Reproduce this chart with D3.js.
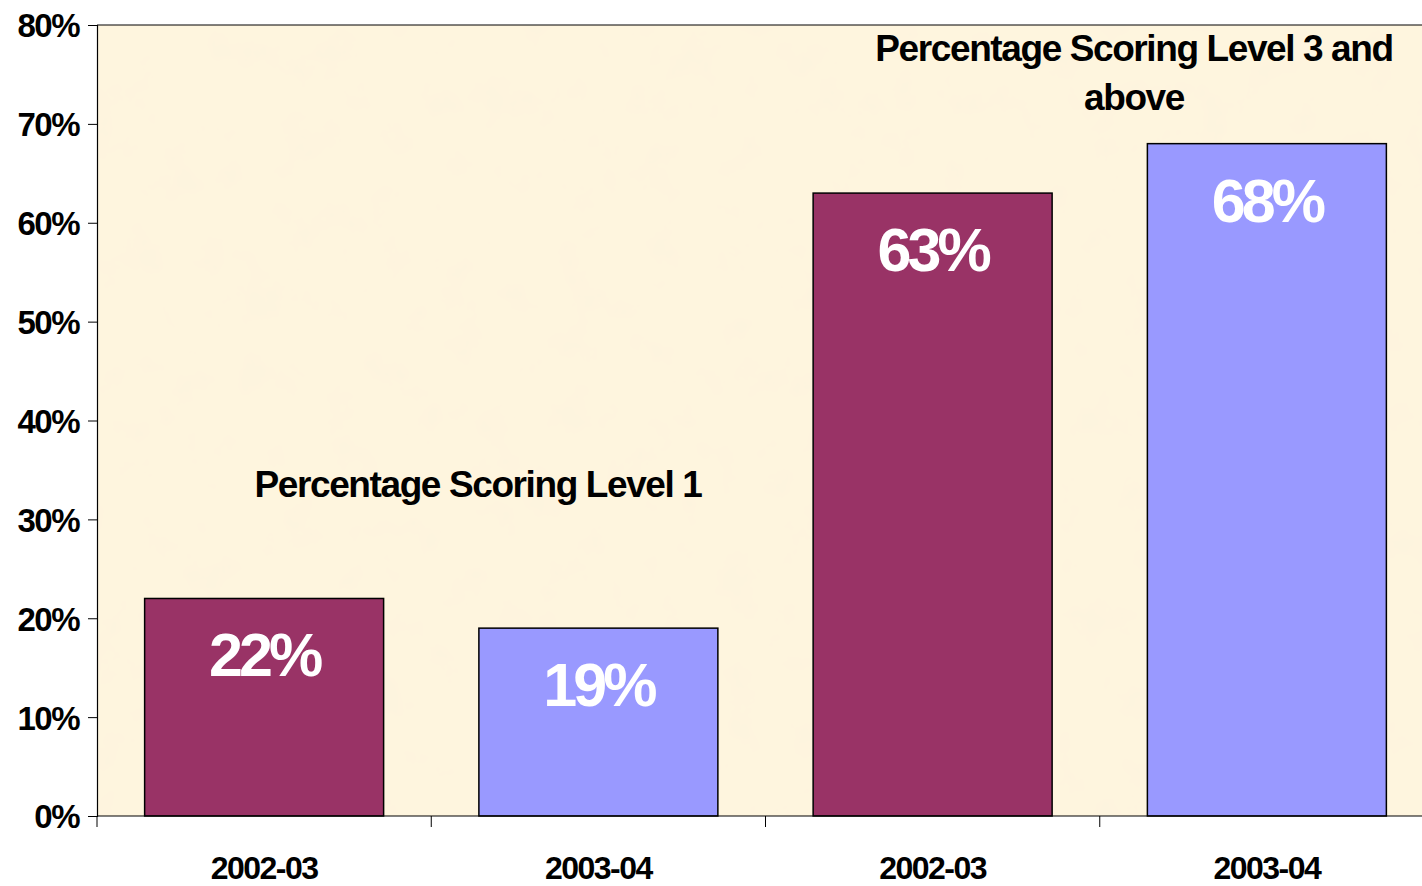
<!DOCTYPE html>
<html>
<head>
<meta charset="utf-8">
<script src="https://cdn.jsdelivr.net/npm/d3@7.9.0/dist/d3.min.js"></script>
<style>
  html, body { margin: 0; padding: 0; background: #ffffff; overflow: hidden; }
  text { font-family: "Liberation Sans", Arial, sans-serif; font-weight: bold; }
</style>
</head>
<body>
<script>
// Chart data
const years = ["2002-03", "2003-04", "2002-03", "2003-04"];
const values = [22, 19, 63, 68];
const yearColors = { "2002-03": "#993366", "2003-04": "#9999FF" };
const yTicks = [0, 10, 20, 30, 40, 50, 60, 70, 80];
const level1Label = ["Percentage Scoring Level 1"];
const level3Label = ["Percentage Scoring Level 3 and", "above"];

const width = 1422, height = 886;
const margin = { top: 25, bottom: 70, left: 97 };
const plotRight = 1434;

const svg = d3.select("body").append("svg")
    .attr("width", width)
    .attr("height", height);

// textured cream background for plot area
const defs = svg.append("defs");
const filt = defs.append("filter").attr("id", "paper")
    .attr("x", 0).attr("y", 0).attr("width", "100%").attr("height", "100%");
filt.append("feTurbulence").attr("type", "fractalNoise")
    .attr("baseFrequency", 0.025).attr("numOctaves", 4).attr("seed", 7).attr("result", "noise");
filt.append("feColorMatrix").attr("in", "noise").attr("type", "matrix")
    .attr("values", "0 0 0 0 0.97  0 0 0 0 0.88  0 0 0 0 0.74  0 0 0 0.6 -0.22")
    .attr("result", "tint");
filt.append("feComposite").attr("in", "tint").attr("in2", "SourceGraphic").attr("operator", "atop");

const x = d3.scaleBand()
    .domain(d3.range(values.length))
    .range([margin.left, plotRight])
    .paddingInner(0.285)
    .paddingOuter(0.1425);

const y = d3.scaleLinear()
    .domain([0, 80])
    .range([height - margin.bottom, margin.top]);

const y0 = y(0);

svg.append("rect")
    .attr("x", margin.left)
    .attr("y", y(80))
    .attr("width", plotRight - margin.left)
    .attr("height", y0 - y(80))
    .attr("fill", "#FEF5DE")
    .attr("filter", "url(#paper)");

// top border of plot area
svg.append("line")
    .attr("x1", margin.left).attr("x2", plotRight)
    .attr("y1", y(80)).attr("y2", y(80))
    .attr("stroke", "#000").attr("stroke-width", 1);

// bars
svg.selectAll("rect.bar").data(values).enter().append("rect")
    .attr("class", "bar")
    .attr("x", (d, i) => x(i))
    .attr("y", d => y(d))
    .attr("width", x.bandwidth())
    .attr("height", d => y0 - y(d))
    .attr("fill", (d, i) => yearColors[years[i]])
    .attr("stroke", "#000")
    .attr("stroke-width", 1.5);

// value labels
svg.selectAll("text.val").data(values).enter().append("text")
    .attr("class", "val")
    .attr("x", (d, i) => x(i) + x.bandwidth() / 2)
    .attr("y", d => y(d) + 78)
    .attr("text-anchor", "middle")
    .attr("fill", "#fff")
    .style("font-size", "61px")
    .style("letter-spacing", "-4px")
    .text(d => d + "%");

// y axis
const yAxis = svg.append("g")
    .attr("transform", `translate(${margin.left},0)`)
    .call(d3.axisLeft(y).tickValues(yTicks).tickSize(9).tickPadding(9).tickFormat(d => d + "%"));
yAxis.select(".domain").attr("stroke", "#000").attr("stroke-width", 1.2);
yAxis.selectAll(".tick line").attr("stroke", "#000");
yAxis.selectAll(".tick text")
    .attr("dy", "0.36em")
    .attr("fill", "#000")
    .style("font-size", "33px")
    .style("font-family", "'Liberation Sans', Arial, sans-serif")
    .style("font-weight", "bold")
    .style("letter-spacing", "-1.5px");

// x axis
svg.append("line")
    .attr("x1", margin.left).attr("x2", plotRight)
    .attr("y1", y0).attr("y2", y0)
    .attr("stroke", "#000").attr("stroke-width", 1.2);

const boundaries = d3.range(values.length + 1).map(i => margin.left + i * x.step());
svg.selectAll("line.xtick").data(boundaries).enter().append("line")
    .attr("class", "xtick")
    .attr("x1", d => d).attr("x2", d => d)
    .attr("y1", y0).attr("y2", y0 + 11)
    .attr("stroke", "#000");

svg.selectAll("text.xlab").data(years).enter().append("text")
    .attr("class", "xlab")
    .attr("x", (d, i) => x(i) + x.bandwidth() / 2)
    .attr("y", y0 + 63)
    .attr("text-anchor", "middle")
    .attr("fill", "#000")
    .style("font-size", "32px")
    .style("letter-spacing", "-1.5px")
    .text(d => d);

// group annotations
svg.append("text")
    .attr("x", 478)
    .attr("y", 497)
    .attr("text-anchor", "middle")
    .style("font-size", "37px")
    .style("letter-spacing", "-1.4px")
    .selectAll("tspan").data(level1Label).enter().append("tspan")
    .attr("x", 478)
    .attr("dy", (d, i) => i === 0 ? 0 : 49)
    .text(d => d);

svg.append("text")
    .attr("x", 1134)
    .attr("y", 61)
    .attr("text-anchor", "middle")
    .style("font-size", "37px")
    .style("letter-spacing", "-1.4px")
    .selectAll("tspan").data(level3Label).enter().append("tspan")
    .attr("x", 1134)
    .attr("dy", (d, i) => i === 0 ? 0 : 49)
    .text(d => d);
</script>
</body>
</html>
